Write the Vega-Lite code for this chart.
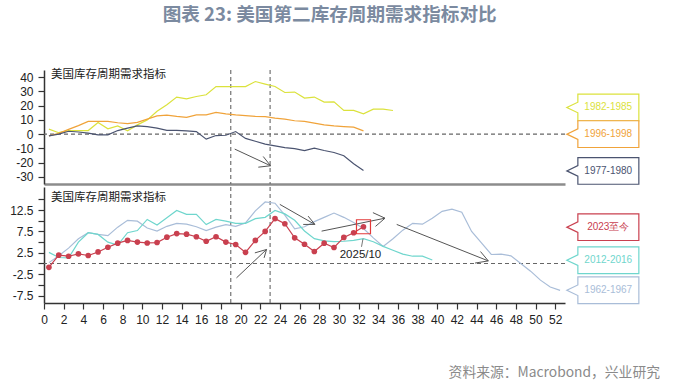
{
  "$schema": "https://vega.github.io/schema/vega-lite/v6.json",
  "autosize": {"type": "pad"},
  "padding": {"left": 9, "top": 6, "right": 0, "bottom": 0},
  "background": "white",
  "title": {
    "text": "图表 23: 美国第二库存周期需求指标对比",
    "font": "Noto Sans CJK SC",
    "fontSize": 18.6,
    "fontWeight": "bold",
    "color": "#7b8aa0",
    "anchor": "start",
    "dx": 153,
    "offset": 44
  },
  "spacing": -4,
  "datasets": {
    "top": [
      {"s": "1982-1985", "x": 0.5, "v": 3.5}, {"s": "1982-1985", "x": 1.5, "v": 1.0}, {"s": "1982-1985", "x": 2.5, "v": 2.5}, {"s": "1982-1985", "x": 3.5, "v": 2.5}, {"s": "1982-1985", "x": 4.5, "v": 2.5}, {"s": "1982-1985", "x": 5.5, "v": 8.2}, {"s": "1982-1985", "x": 6.5, "v": 3.7}, {"s": "1982-1985", "x": 7.5, "v": 5.8}, {"s": "1982-1985", "x": 8.5, "v": 2.3}, {"s": "1982-1985", "x": 9.5, "v": 6.5}, {"s": "1982-1985", "x": 10.5, "v": 10.0}, {"s": "1982-1985", "x": 11.5, "v": 16.0}, {"s": "1982-1985", "x": 12.5, "v": 20.6}, {"s": "1982-1985", "x": 13.5, "v": 26.0}, {"s": "1982-1985", "x": 14.5, "v": 24.8}, {"s": "1982-1985", "x": 15.5, "v": 26.4}, {"s": "1982-1985", "x": 16.5, "v": 27.6}, {"s": "1982-1985", "x": 17.5, "v": 33.4}, {"s": "1982-1985", "x": 18.5, "v": 33.4}, {"s": "1982-1985", "x": 19.5, "v": 33.4}, {"s": "1982-1985", "x": 20.5, "v": 33.4}, {"s": "1982-1985", "x": 21.5, "v": 36.9}, {"s": "1982-1985", "x": 22.5, "v": 35.1}, {"s": "1982-1985", "x": 23.5, "v": 33.4}, {"s": "1982-1985", "x": 24.5, "v": 29.2}, {"s": "1982-1985", "x": 25.5, "v": 29.5}, {"s": "1982-1985", "x": 26.5, "v": 25.3}, {"s": "1982-1985", "x": 27.5, "v": 26.0}, {"s": "1982-1985", "x": 28.5, "v": 22.5}, {"s": "1982-1985", "x": 29.5, "v": 22.7}, {"s": "1982-1985", "x": 30.5, "v": 16.6}, {"s": "1982-1985", "x": 31.5, "v": 16.6}, {"s": "1982-1985", "x": 32.5, "v": 14.2}, {"s": "1982-1985", "x": 33.5, "v": 17.5}, {"s": "1982-1985", "x": 34.5, "v": 17.5}, {"s": "1982-1985", "x": 35.5, "v": 16.6},
      {"s": "1996-1998", "x": 0.5, "v": -1.2}, {"s": "1996-1998", "x": 1.5, "v": 0.5}, {"s": "1996-1998", "x": 2.5, "v": 3.3}, {"s": "1996-1998", "x": 3.5, "v": 6.0}, {"s": "1996-1998", "x": 4.5, "v": 8.9}, {"s": "1996-1998", "x": 5.5, "v": 9.0}, {"s": "1996-1998", "x": 6.5, "v": 8.9}, {"s": "1996-1998", "x": 7.5, "v": 8.0}, {"s": "1996-1998", "x": 8.5, "v": 7.4}, {"s": "1996-1998", "x": 9.5, "v": 8.2}, {"s": "1996-1998", "x": 10.5, "v": 10.5}, {"s": "1996-1998", "x": 11.5, "v": 12.8}, {"s": "1996-1998", "x": 12.5, "v": 13.3}, {"s": "1996-1998", "x": 13.5, "v": 12.4}, {"s": "1996-1998", "x": 14.5, "v": 11.7}, {"s": "1996-1998", "x": 15.5, "v": 13.5}, {"s": "1996-1998", "x": 16.5, "v": 13.5}, {"s": "1996-1998", "x": 17.5, "v": 15.2}, {"s": "1996-1998", "x": 18.5, "v": 14.2}, {"s": "1996-1998", "x": 19.5, "v": 13.5}, {"s": "1996-1998", "x": 20.5, "v": 13.0}, {"s": "1996-1998", "x": 21.5, "v": 12.4}, {"s": "1996-1998", "x": 22.5, "v": 12.3}, {"s": "1996-1998", "x": 23.5, "v": 11.2}, {"s": "1996-1998", "x": 24.5, "v": 10.5}, {"s": "1996-1998", "x": 25.5, "v": 9.4}, {"s": "1996-1998", "x": 26.5, "v": 8.9}, {"s": "1996-1998", "x": 27.5, "v": 7.7}, {"s": "1996-1998", "x": 28.5, "v": 6.5}, {"s": "1996-1998", "x": 29.5, "v": 5.8}, {"s": "1996-1998", "x": 30.5, "v": 5.3}, {"s": "1996-1998", "x": 31.5, "v": 4.9}, {"s": "1996-1998", "x": 32.5, "v": 2.3},
      {"s": "1977-1980", "x": 0.5, "v": -1.2}, {"s": "1977-1980", "x": 1.5, "v": 0.0}, {"s": "1977-1980", "x": 2.5, "v": 2.0}, {"s": "1977-1980", "x": 3.5, "v": 1.5}, {"s": "1977-1980", "x": 4.5, "v": 0.7}, {"s": "1977-1980", "x": 5.5, "v": -0.5}, {"s": "1977-1980", "x": 6.5, "v": -0.5}, {"s": "1977-1980", "x": 7.5, "v": 2.5}, {"s": "1977-1980", "x": 8.5, "v": 4.2}, {"s": "1977-1980", "x": 9.5, "v": 5.8}, {"s": "1977-1980", "x": 10.5, "v": 5.2}, {"s": "1977-1980", "x": 11.5, "v": 4.2}, {"s": "1977-1980", "x": 12.5, "v": 2.6}, {"s": "1977-1980", "x": 13.5, "v": 2.6}, {"s": "1977-1980", "x": 14.5, "v": 2.3}, {"s": "1977-1980", "x": 15.5, "v": 1.8}, {"s": "1977-1980", "x": 16.5, "v": -3.5}, {"s": "1977-1980", "x": 17.5, "v": -1.0}, {"s": "1977-1980", "x": 18.5, "v": -0.8}, {"s": "1977-1980", "x": 19.5, "v": 1.8}, {"s": "1977-1980", "x": 20.5, "v": -3.0}, {"s": "1977-1980", "x": 21.5, "v": -5.0}, {"s": "1977-1980", "x": 22.5, "v": -7.0}, {"s": "1977-1980", "x": 23.5, "v": -8.3}, {"s": "1977-1980", "x": 24.5, "v": -9.5}, {"s": "1977-1980", "x": 25.5, "v": -10.2}, {"s": "1977-1980", "x": 26.5, "v": -11.5}, {"s": "1977-1980", "x": 27.5, "v": -9.8}, {"s": "1977-1980", "x": 28.5, "v": -11.5}, {"s": "1977-1980", "x": 29.5, "v": -12.9}, {"s": "1977-1980", "x": 30.5, "v": -15.2}, {"s": "1977-1980", "x": 31.5, "v": -20.8}, {"s": "1977-1980", "x": 32.5, "v": -25.5}
    ],
    "bottom": [
      {"s": "1962-1967", "x": 0.5, "v": 0.2}, {"s": "1962-1967", "x": 1.5, "v": 1.8}, {"s": "1962-1967", "x": 2.5, "v": 3.6}, {"s": "1962-1967", "x": 3.5, "v": 5.8}, {"s": "1962-1967", "x": 4.5, "v": 7.2}, {"s": "1962-1967", "x": 5.5, "v": 6.8}, {"s": "1962-1967", "x": 6.5, "v": 6.5}, {"s": "1962-1967", "x": 7.5, "v": 8.5}, {"s": "1962-1967", "x": 8.5, "v": 10.1}, {"s": "1962-1967", "x": 9.5, "v": 9.9}, {"s": "1962-1967", "x": 10.5, "v": 8.3}, {"s": "1962-1967", "x": 11.5, "v": 7.6}, {"s": "1962-1967", "x": 12.5, "v": 8.7}, {"s": "1962-1967", "x": 13.5, "v": 9.4}, {"s": "1962-1967", "x": 14.5, "v": 9.2}, {"s": "1962-1967", "x": 15.5, "v": 8.6}, {"s": "1962-1967", "x": 16.5, "v": 7.7}, {"s": "1962-1967", "x": 17.5, "v": 8.5}, {"s": "1962-1967", "x": 18.5, "v": 9.1}, {"s": "1962-1967", "x": 19.5, "v": 8.7}, {"s": "1962-1967", "x": 20.5, "v": 9.5}, {"s": "1962-1967", "x": 21.5, "v": 12.3}, {"s": "1962-1967", "x": 22.5, "v": 14.4}, {"s": "1962-1967", "x": 23.5, "v": 14.1}, {"s": "1962-1967", "x": 24.5, "v": 11.3}, {"s": "1962-1967", "x": 25.5, "v": 8.1}, {"s": "1962-1967", "x": 26.5, "v": 8.6}, {"s": "1962-1967", "x": 27.5, "v": 9.8}, {"s": "1962-1967", "x": 28.5, "v": 10.8}, {"s": "1962-1967", "x": 29.5, "v": 11.8}, {"s": "1962-1967", "x": 30.5, "v": 10.8}, {"s": "1962-1967", "x": 31.5, "v": 9.6}, {"s": "1962-1967", "x": 32.5, "v": 8.2}, {"s": "1962-1967", "x": 33.5, "v": 6.0}, {"s": "1962-1967", "x": 34.5, "v": 4.0}, {"s": "1962-1967", "x": 35.5, "v": 5.8}, {"s": "1962-1967", "x": 36.5, "v": 7.8}, {"s": "1962-1967", "x": 37.5, "v": 9.4}, {"s": "1962-1967", "x": 38.5, "v": 9.2}, {"s": "1962-1967", "x": 39.5, "v": 10.6}, {"s": "1962-1967", "x": 40.5, "v": 12.2}, {"s": "1962-1967", "x": 41.5, "v": 12.7}, {"s": "1962-1967", "x": 42.5, "v": 12.0}, {"s": "1962-1967", "x": 43.5, "v": 7.5}, {"s": "1962-1967", "x": 44.5, "v": 4.8}, {"s": "1962-1967", "x": 45.5, "v": 2.1}, {"s": "1962-1967", "x": 46.5, "v": 2.2}, {"s": "1962-1967", "x": 47.5, "v": 1.8}, {"s": "1962-1967", "x": 48.5, "v": 0.0}, {"s": "1962-1967", "x": 49.5, "v": -1.8}, {"s": "1962-1967", "x": 50.5, "v": -3.9}, {"s": "1962-1967", "x": 51.5, "v": -5.5}, {"s": "1962-1967", "x": 52.5, "v": -6.3},
      {"s": "2012-2016", "x": 0.5, "v": 2.6}, {"s": "2012-2016", "x": 1.5, "v": 1.4}, {"s": "2012-2016", "x": 2.5, "v": 1.3}, {"s": "2012-2016", "x": 3.5, "v": 5.0}, {"s": "2012-2016", "x": 4.5, "v": 7.2}, {"s": "2012-2016", "x": 5.5, "v": 6.8}, {"s": "2012-2016", "x": 6.5, "v": 5.0}, {"s": "2012-2016", "x": 7.5, "v": 4.3}, {"s": "2012-2016", "x": 8.5, "v": 7.2}, {"s": "2012-2016", "x": 9.5, "v": 7.7}, {"s": "2012-2016", "x": 10.5, "v": 10.3}, {"s": "2012-2016", "x": 11.5, "v": 9.0}, {"s": "2012-2016", "x": 12.5, "v": 10.7}, {"s": "2012-2016", "x": 13.5, "v": 12.4}, {"s": "2012-2016", "x": 14.5, "v": 11.5}, {"s": "2012-2016", "x": 15.5, "v": 11.5}, {"s": "2012-2016", "x": 16.5, "v": 9.1}, {"s": "2012-2016", "x": 17.5, "v": 10.3}, {"s": "2012-2016", "x": 18.5, "v": 9.9}, {"s": "2012-2016", "x": 19.5, "v": 9.4}, {"s": "2012-2016", "x": 20.5, "v": 9.4}, {"s": "2012-2016", "x": 21.5, "v": 10.5}, {"s": "2012-2016", "x": 22.5, "v": 10.8}, {"s": "2012-2016", "x": 23.5, "v": 12.4}, {"s": "2012-2016", "x": 24.5, "v": 11.6}, {"s": "2012-2016", "x": 25.5, "v": 10.1}, {"s": "2012-2016", "x": 26.5, "v": 7.6}, {"s": "2012-2016", "x": 27.5, "v": 5.8}, {"s": "2012-2016", "x": 28.5, "v": 5.3}, {"s": "2012-2016", "x": 29.5, "v": 5.1}, {"s": "2012-2016", "x": 30.5, "v": 5.2}, {"s": "2012-2016", "x": 31.5, "v": 5.4}, {"s": "2012-2016", "x": 32.5, "v": 5.8}, {"s": "2012-2016", "x": 33.5, "v": 5.1}, {"s": "2012-2016", "x": 34.5, "v": 4.0}, {"s": "2012-2016", "x": 35.5, "v": 3.1}, {"s": "2012-2016", "x": 36.5, "v": 2.2}, {"s": "2012-2016", "x": 37.5, "v": 1.7}, {"s": "2012-2016", "x": 38.5, "v": 1.7}, {"s": "2012-2016", "x": 39.5, "v": 0.8},
      {"s": "2023至今", "x": 0.5, "v": -0.9}, {"s": "2023至今", "x": 1.5, "v": 1.95}, {"s": "2023至今", "x": 2.5, "v": 1.7}, {"s": "2023至今", "x": 3.5, "v": 2.25}, {"s": "2023至今", "x": 4.5, "v": 1.87}, {"s": "2023至今", "x": 5.5, "v": 2.7}, {"s": "2023至今", "x": 6.5, "v": 3.8}, {"s": "2023至今", "x": 7.5, "v": 4.75}, {"s": "2023至今", "x": 8.5, "v": 5.4}, {"s": "2023至今", "x": 9.5, "v": 5.0}, {"s": "2023至今", "x": 10.5, "v": 4.8}, {"s": "2023至今", "x": 11.5, "v": 4.9}, {"s": "2023至今", "x": 12.5, "v": 6.15}, {"s": "2023至今", "x": 13.5, "v": 7.0}, {"s": "2023至今", "x": 14.5, "v": 6.87}, {"s": "2023至今", "x": 15.5, "v": 6.25}, {"s": "2023至今", "x": 16.5, "v": 5.2}, {"s": "2023至今", "x": 17.5, "v": 6.25}, {"s": "2023至今", "x": 18.5, "v": 5.0}, {"s": "2023至今", "x": 19.5, "v": 4.45}, {"s": "2023至今", "x": 20.5, "v": 2.6}, {"s": "2023至今", "x": 21.5, "v": 5.4}, {"s": "2023至今", "x": 22.5, "v": 7.5}, {"s": "2023至今", "x": 23.5, "v": 10.5}, {"s": "2023至今", "x": 24.5, "v": 9.3}, {"s": "2023至今", "x": 25.5, "v": 6.0}, {"s": "2023至今", "x": 26.5, "v": 4.5}, {"s": "2023至今", "x": 27.5, "v": 2.8}, {"s": "2023至今", "x": 28.5, "v": 4.75}, {"s": "2023至今", "x": 29.5, "v": 3.75}, {"s": "2023至今", "x": 30.5, "v": 6.1}, {"s": "2023至今", "x": 31.5, "v": 7.2}, {"s": "2023至今", "x": 32.5, "v": 8.6}
    ],
    "topLabels": [
      {"s": "1982-1985", "v": 18.7},
      {"s": "1996-1998", "v": 0.0},
      {"s": "1977-1980", "v": -25.8}
    ],
    "bottomLabels": [
      {"s": "2023至今", "v": 8.5},
      {"s": "2012-2016", "v": 0.77},
      {"s": "1962-1967", "v": -6.26}
    ],
    "refs": [{"x": 19}, {"x": 23}],
    "topArrows": [
      {"x": 19.4, "y": -10.5, "x2": 23.05, "y2": -22.2},
      {"x": 22.3, "y": -15.7, "x2": 23.05, "y2": -22.2},
      {"x": 21.8, "y": -23.2, "x2": 23.05, "y2": -22.2}
    ],
    "bottomArrows": [
      {"x": 19.58, "y": -3.37, "x2": 22.64, "y2": 3.28},
      {"x": 21.45, "y": 2.48, "x2": 22.64, "y2": 3.28},
      {"x": 22.39, "y": 1.31, "x2": 22.64, "y2": 3.28},
      {"x": 23.99, "y": 13.83, "x2": 27.56, "y2": 9.14},
      {"x": 26.87, "y": 11.08, "x2": 27.56, "y2": 9.14},
      {"x": 26.37, "y": 9.14, "x2": 27.56, "y2": 9.14},
      {"x": 28.24, "y": 7.57, "x2": 34.69, "y2": 10.6},
      {"x": 33.46, "y": 11.9, "x2": 34.69, "y2": 10.6},
      {"x": 33.72, "y": 8.67, "x2": 34.69, "y2": 10.6},
      {"x": 35.88, "y": 9.14, "x2": 45.2, "y2": 0.6},
      {"x": 44.4, "y": 2.8, "x2": 45.2, "y2": 0.6},
      {"x": 43.85, "y": 0.1, "x2": 45.2, "y2": 0.6}
    ],
    "latest": [{"x": 32.5, "v": 8.6, "label": "2025/10"}],
    "one": [{}]
  },
  "vconcat": [
    {
      "width": 521,
      "height": 114,
      "encoding": {
        "x": {"type": "quantitative", "scale": {"domain": [0, 53], "nice": false, "zero": false},
              "axis": {"title": null, "labels": false, "ticks": false, "domainColor": "#8c8c8c", "domainWidth": 2.5, "grid": false}},
        "y": {"type": "quantitative", "scale": {"domain": [-35, 45], "nice": false, "zero": false},
              "axis": {"title": null, "values": [-30, -20, -10, 0, 10, 20, 30, 40], "grid": false,
                       "labelExpr": "replace(datum.label, '\u2212', '-')"}}
      },
      "layer": [
        {"data": {"name": "one"},
         "mark": {"type": "rule", "color": "#666666", "strokeDash": [4, 3], "strokeWidth": 1.1},
         "encoding": {"y": {"datum": 0}}},
        {"data": {"name": "refs"},
         "mark": {"type": "rule", "color": "#666666", "strokeDash": [4, 3], "strokeWidth": 1.1},
         "encoding": {"x": {"field": "x"}, "y": null}},
        {"data": {"name": "top"},
         "mark": {"type": "line", "strokeWidth": 1.2},
         "encoding": {"x": {"field": "x"}, "y": {"field": "v"},
                      "color": {"field": "s", "type": "nominal", "legend": null,
                                "scale": {"domain": ["1982-1985", "1996-1998", "1977-1980", "2023至今", "2012-2016", "1962-1967"],
                                          "range": ["#dbe23c", "#f0a33a", "#4b5470", "#c9404f", "#6fd6cd", "#a9bdd8"]}}}},
        {"data": {"name": "topArrows"},
         "mark": {"type": "rule", "color": "#555555", "strokeWidth": 1},
         "encoding": {"x": {"field": "x"}, "y": {"field": "y"}, "x2": {"field": "x2"}, "y2": {"field": "y2"}}},
        {"data": {"name": "one"},
         "mark": {"type": "text", "text": "美国库存周期需求指标", "font": "Noto Sans CJK SC", "fontSize": 11.5, "align": "left", "baseline": "middle", "color": "#222222"},
         "encoding": {"x": {"datum": 0.7}, "y": {"datum": 41.6}}},
        {"data": {"name": "topLabels"},
         "mark": {"type": "point", "filled": true, "fill": "white", "strokeWidth": 1.2, "opacity": 1, "clip": false,
                  "shape": "M1,-0.371L-0.694,-0.371L-0.694,-0.147L-1,0L-0.694,0.147L-0.694,0.371L1,0.371Z", "size": 5184},
         "encoding": {"x": {"datum": 56.85}, "y": {"field": "v"},
                      "stroke": {"field": "s", "type": "nominal", "legend": null,
                                 "scale": {"domain": ["1982-1985", "1996-1998", "1977-1980", "2023至今", "2012-2016", "1962-1967"],
                                           "range": ["#dbe23c", "#f0a33a", "#4b5470", "#c9404f", "#6fd6cd", "#a9bdd8"]}}}},
        {"data": {"name": "topLabels"},
         "mark": {"type": "text", "font": "Liberation Sans", "fontSize": 10, "align": "center", "baseline": "middle", "clip": false},
         "encoding": {"x": {"datum": 57.4}, "y": {"field": "v"}, "text": {"field": "s"}, "color": {"field": "s", "type": "nominal", "legend": null}}}
      ]
    },
    {
      "width": 521,
      "height": 116,
      "title": {
        "text": "资料来源：Macrobond，兴业研究",
        "orient": "bottom",
        "anchor": "end",
        "frame": "group",
        "font": "Noto Sans CJK SC",
        "fontSize": 13.8,
        "fontWeight": "normal",
        "color": "#8a8a8a",
        "dx": 95,
        "offset": 41
      },
      "encoding": {
        "x": {"type": "quantitative", "scale": {"domain": [0, 53], "nice": false, "zero": false},
              "axis": {"title": null, "values": [0, 2, 4, 6, 8, 10, 12, 14, 16, 18, 20, 22, 24, 26, 28, 30, 32, 34, 36, 38, 40, 42, 44, 46, 48, 50, 52], "grid": false}},
        "y": {"type": "quantitative", "scale": {"domain": [-9.25, 17.9], "nice": false, "zero": false},
              "axis": {"title": null, "values": [-7.5, -5, -2.5, 0, 2.5, 5, 7.5, 10, 12.5, 15], "grid": false,
                       "labelExpr": "abs((datum.value + 7.5) % 5) < 0.01 ? replace(format(datum.value, '.1f'), '\u2212', '-') : ''"}}
      },
      "layer": [
        {"data": {"name": "one"},
         "mark": {"type": "rule", "color": "#666666", "strokeDash": [4, 3], "strokeWidth": 1.1},
         "encoding": {"y": {"datum": 0}}},
        {"data": {"name": "refs"},
         "mark": {"type": "rule", "color": "#666666", "strokeDash": [4, 3], "strokeWidth": 1.1},
         "encoding": {"x": {"field": "x"}, "y": null}},
        {"data": {"name": "bottom"},
         "mark": {"type": "line", "strokeWidth": 1.2},
         "encoding": {"x": {"field": "x"}, "y": {"field": "v"},
                      "color": {"field": "s", "type": "nominal", "legend": null}}},
        {"data": {"name": "bottom"},
         "transform": [{"filter": "datum.s === '2023至今'"}],
         "mark": {"type": "point", "filled": true, "size": 32, "opacity": 1},
         "encoding": {"x": {"field": "x"}, "y": {"field": "v"},
                      "color": {"field": "s", "type": "nominal", "legend": null}}},
        {"data": {"name": "bottomArrows"},
         "mark": {"type": "rule", "color": "#555555", "strokeWidth": 1},
         "encoding": {"x": {"field": "x"}, "y": {"field": "y"}, "x2": {"field": "x2"}, "y2": {"field": "y2"}}},
        {"data": {"name": "latest"},
         "mark": {"type": "point", "shape": "square", "size": 196, "filled": false, "stroke": "#e23a3a", "strokeWidth": 1.2, "opacity": 1},
         "encoding": {"x": {"field": "x"}, "y": {"field": "v"}}},
        {"data": {"name": "one"},
         "mark": {"type": "rule", "color": "#777777", "strokeWidth": 1},
         "encoding": {"x": {"datum": 32.45}, "y": {"datum": 5.8}, "x2": {"datum": 32.3}, "y2": {"datum": 3.9}}},
        {"data": {"name": "latest"},
         "mark": {"type": "text", "font": "Liberation Sans", "fontSize": 11.5, "align": "center", "baseline": "middle", "color": "#222222", "dx": -3},
         "encoding": {"x": {"field": "x"}, "y": {"datum": 1.95}, "text": {"field": "label"}}},
        {"data": {"name": "one"},
         "mark": {"type": "text", "text": "美国库存周期需求指标", "font": "Noto Sans CJK SC", "fontSize": 11.5, "align": "left", "baseline": "middle", "color": "#222222"},
         "encoding": {"x": {"datum": 0.7}, "y": {"datum": 15.4}}},
        {"data": {"name": "bottomLabels"},
         "mark": {"type": "point", "filled": true, "fill": "white", "strokeWidth": 1.2, "opacity": 1, "clip": false,
                  "shape": "M1,-0.371L-0.694,-0.371L-0.694,-0.147L-1,0L-0.694,0.147L-0.694,0.371L1,0.371Z", "size": 5184},
         "encoding": {"x": {"datum": 56.85}, "y": {"field": "v"},
                      "stroke": {"field": "s", "type": "nominal", "legend": null,
                                 "scale": {"domain": ["1982-1985", "1996-1998", "1977-1980", "2023至今", "2012-2016", "1962-1967"],
                                           "range": ["#dbe23c", "#f0a33a", "#4b5470", "#c9404f", "#6fd6cd", "#a9bdd8"]}}}},
        {"data": {"name": "bottomLabels"},
         "mark": {"type": "text", "font": "Liberation Sans", "fontSize": 10, "align": "center", "baseline": "middle", "clip": false},
         "encoding": {"x": {"datum": 57.4}, "y": {"field": "v"}, "text": {"field": "s"}, "color": {"field": "s", "type": "nominal", "legend": null}}}
      ]
    }
  ],
  "resolve": {"scale": {"color": "shared", "stroke": "shared"}},
  "config": {
    "view": {"stroke": null},
    "axis": {
      "labelFont": "Liberation Sans",
      "labelFontSize": 12,
      "labelColor": "#222222",
      "domainColor": "#333333",
      "domainWidth": 1.5,
      "tickColor": "#333333",
      "tickWidth": 1.2,
      "tickSize": 6,
      "labelPadding": 5,
      "labelFlush": false,
      "labelOverlap": false
    }
  }
}
